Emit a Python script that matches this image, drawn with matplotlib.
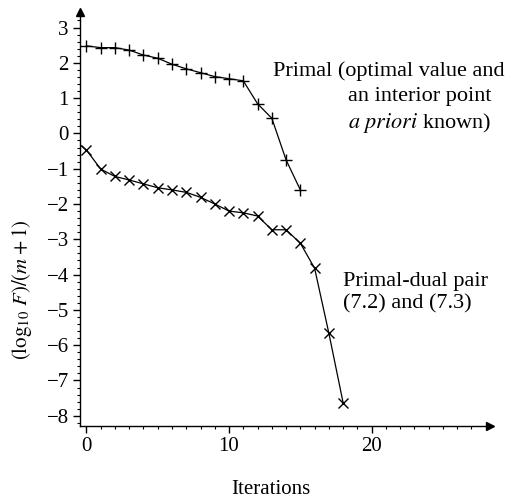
import matplotlib
matplotlib.use("Agg")
import matplotlib.pyplot as plt
import numpy as np

plt.rcParams['font.family'] = ['Liberation Serif', 'DejaVu Serif']
plt.rcParams['mathtext.fontset'] = 'stix'

# Data
primal_x = list(range(0, 16))
primal_y = [2.48, 2.43, 2.43, 2.36, 2.22, 2.13, 1.96, 1.83, 1.72, 1.61, 1.55, 1.49,
            0.84, 0.43, -0.75, -1.6]

dual_x = [-0.45] + list(range(0, 19))
dual_y = [-0.33, -0.47, -1.01, -1.22, -1.32, -1.43, -1.54, -1.60, -1.67, -1.81, -2.00,
          -2.20, -2.25, -2.34, -2.73, -2.73, -3.11, -3.82, -5.66, -7.63]

y_ticks = [-8, -7, -6, -5, -4, -3, -2, -1, 0, 1, 2, 3]
x_ticks = [0, 10, 20]

fig = plt.figure(figsize=(5.11, 4.98), dpi=100)
ax = fig.add_axes([80/511, 72/498, 410/511, 414/498])

ax.plot(primal_x, primal_y, color='black', lw=0.9, marker='+', ms=8, mew=1.0)
ax.plot(dual_x, dual_y, color='black', lw=0.9, marker='x', ms=7, mew=1.0,
        markevery=list(range(1, len(dual_x))))

ax.set_xlim(-0.45, 28.3)
ax.set_ylim(-8.29, 3.44)

for s in ['top', 'right']:
    ax.spines[s].set_visible(False)
for s in ['left', 'bottom']:
    ax.spines[s].set_linewidth(1.0)

ax.set_xticks(x_ticks)
ax.set_yticks(y_ticks)
ax.set_xticks(np.arange(0, 28, 1), minor=True)
ax.set_yticks(np.arange(-8.2, 3.21, 0.2), minor=True)
ax.tick_params(which='major', length=5, width=1.0, labelsize=15, direction='out', pad=3)
ax.tick_params(which='minor', length=2.5, width=0.8, direction='out')

# axis arrows
ax.plot(1, 0, marker='>', color='black', ms=6, transform=ax.transAxes, clip_on=False)
ax.plot(0, 1, marker='^', color='black', ms=6, transform=ax.transAxes, clip_on=False)

fig.text(22/511, 1 - 290/498, r'$(\log_{10}\,F)/(m+1)$', rotation=90,
         ha='center', va='center', fontsize=15)
fig.text(271/511, 1 - 489/498, 'Iterations', ha='center', va='center', fontsize=15)

fs = 16
fig.text(273/511, 1 - 71/498, 'Primal (optimal value and', ha='left', va='center', fontsize=fs)
fig.text(348/511, 1 - 97/498, 'an interior point', ha='left', va='center', fontsize=fs)
fig.text(348/511, 1 - 123/498, r'$\it{a\ priori}$ known)', ha='left', va='center', fontsize=fs)
fig.text(343/511, 1 - 281/498, 'Primal-dual pair', ha='left', va='center', fontsize=fs)
fig.text(343/511, 1 - 304/498, '(7.2) and (7.3)', ha='left', va='center', fontsize=fs)

fig.savefig('out.png', dpi=100)
